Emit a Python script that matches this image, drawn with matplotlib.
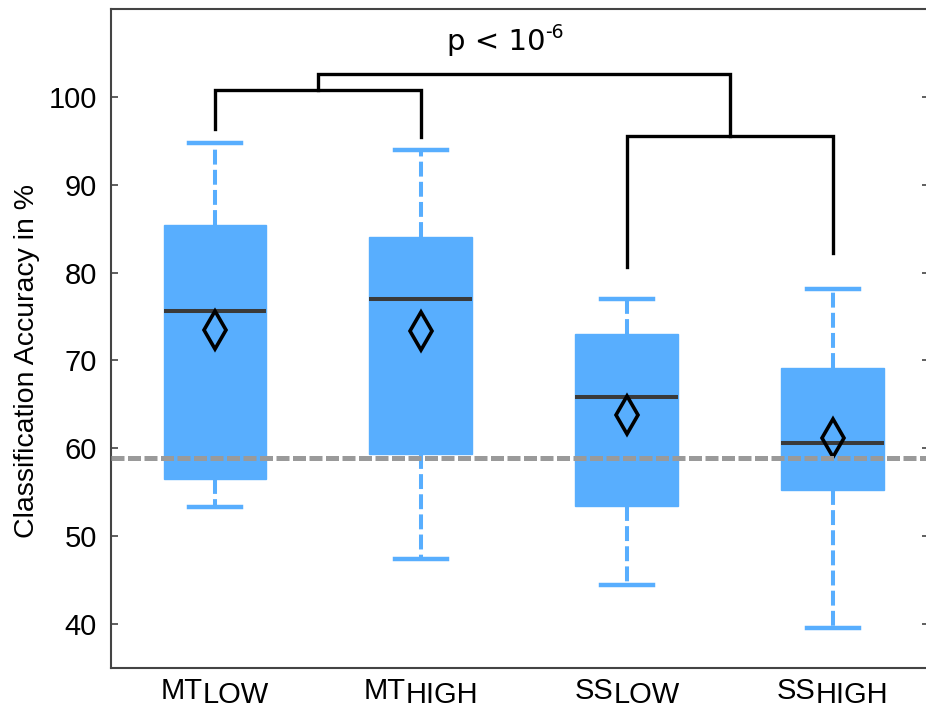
import matplotlib
matplotlib.use("Agg")
import matplotlib.pyplot as plt
from matplotlib.transforms import offset_copy, blended_transform_factory

# data
groups = ["MT", "MT", "SS", "SS"]
levels = ["LOW", "HIGH", "LOW", "HIGH"]
medians = [75.6, 77.0, 65.8, 60.6]
q1 = [56.5, 59.3, 53.4, 55.3]
q3 = [85.4, 84.0, 73.0, 69.1]
whisker_low = [53.3, 47.4, 44.5, 39.5]
whisker_high = [94.8, 94.0, 77.0, 78.1]
means = [73.5, 73.4, 63.8, 61.2]
chance_level = 58.9

# significance brackets: (x_left, x_right, y_bar, y_left_end, y_right_end)
brackets = [
    (1.0, 2.0, 100.8, 96.3, 95.4),
    (3.0, 4.0, 95.6, 80.6, 82.2),
    (1.5, 3.5, 102.6, 100.8, 95.6),
]
p_text = "p < 10"
p_exp = "-6"

blue = "#58AEFE"
sans = "Liberation Sans"

fig = plt.figure(figsize=(9.26, 7.09), dpi=100)
ax = fig.add_axes([111 / 926, 1 - 668 / 709, 818 / 926, 659 / 709])

positions = list(range(1, len(medians) + 1))
stats = []
for i in range(len(medians)):
    stats.append({
        "med": medians[i], "q1": q1[i], "q3": q3[i],
        "whislo": whisker_low[i], "whishi": whisker_high[i],
        "mean": means[i], "fliers": [],
    })

ax.bxp(stats, positions=positions, widths=0.5, capwidths=0.25,
       patch_artist=True, showmeans=True, showfliers=False,
       boxprops=dict(facecolor=blue, edgecolor=blue, linewidth=1),
       whiskerprops=dict(color=blue, linewidth=2.9, linestyle=(0, (3.7, 1.3))),
       capprops=dict(color=blue, linewidth=3.2),
       medianprops=dict(color="#3a3a3a", linewidth=2.9),
       meanprops=dict(marker="d", markerfacecolor="none", markeredgecolor="black",
                      markersize=19, markeredgewidth=2.6),
       zorder=2)

ax.axhline(chance_level, color="#9a9a9a", linewidth=3.6,
           linestyle=(0, (2.6, 0.7)), zorder=3)

for xl, xr, yb, yl, yr in brackets:
    ax.plot([xl, xl, xr, xr], [yl, yb, yb, yr], color="black",
            linewidth=2.4, solid_joinstyle="miter", zorder=4)

ax.set_xlim(0.495, 4.467)
ax.set_ylim(35, 110)
ax.set_yticks(range(40, 101, 10))
ax.set_xticks(positions)
ax.set_xticklabels([""] * len(positions))

for side in ["left", "right", "top", "bottom"]:
    ax.spines[side].set_color("#444444")
    ax.spines[side].set_linewidth(1.5)
ax.spines["right"].set_visible(False)

ax.tick_params(axis="y", direction="in", length=5, width=1.2, color="#444444",
               right=True, labelsize=21, pad=10)
ax.tick_params(axis="x", length=0)
for lab in ax.get_yticklabels():
    lab.set_family(sans)

ax.set_ylabel("Classification Accuracy in %", fontsize=20.5, family=sans)
ax.yaxis.set_label_coords(-0.087, 0.466)

renderer = fig.canvas.get_renderer()


def place_parts(x, y, transform, parts):
    # lay text pieces side by side, centred on x
    items = []
    for s, size, dy, family in parts:
        t = ax.text(x, y, s, transform=transform, fontsize=size, family=family,
                    ha="left", va="baseline", clip_on=False)
        items.append((t, dy))
    widths = [t.get_window_extent(renderer).width for t, _ in items]
    cursor = -sum(widths) / 2
    for (t, dy), w in zip(items, widths):
        t.set_transform(offset_copy(transform, fig=fig, x=cursor, y=dy, units="dots"))
        cursor += w


xlab_tr = blended_transform_factory(ax.transData, ax.transAxes)
for pos, g, lv in zip(positions, groups, levels):
    place_parts(pos, 0, xlab_tr, [(g, 21, -31, sans), (lv, 21, -35, sans)])

place_parts(2.41, 105.3, ax.transData,
            [(p_text, 21, 0, "DejaVu Sans"), (p_exp, 13.5, 12, "DejaVu Sans")])

fig.savefig("out.png", dpi=100)
